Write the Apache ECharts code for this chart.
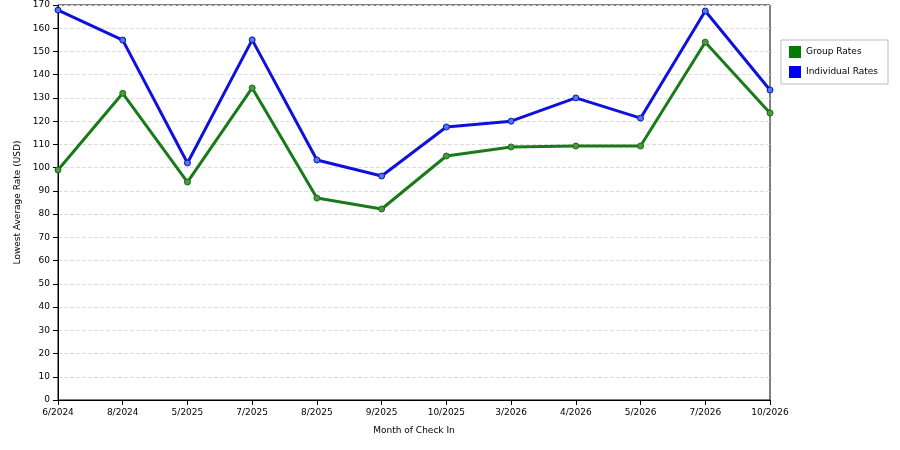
<!DOCTYPE html>
<html><head><meta charset="utf-8">
<script src="https://cdn.jsdelivr.net/npm/echarts@6/dist/echarts.min.js"></script>
<style>html,body{margin:0;padding:0;background:#fff}#c{width:900px;height:450px}</style>
</head><body><div id="c"></div>
<script>
const categories = ['6/2024','8/2024','5/2025','7/2025','8/2025','9/2025','10/2025','3/2026','4/2026','5/2026','7/2026','10/2026'];
const groupRates = [99, 132, 93.8, 134.3, 86.9, 82.2, 105, 108.9, 109.3, 109.3, 154, 123.5];
const individualRates = [167.8, 154.9, 102, 155, 103.3, 96.4, 117.5, 120, 130, 121.3, 167.4, 133.4];
const chart = echarts.init(document.getElementById('c'));
const font = {fontFamily:'DejaVu Sans', fontSize:9, color:'#000'};
chart.setOption({
  animation:false,
  grid:{left:58, right:130, top:5, bottom:50, show:true, borderColor:'#000', borderWidth:1},
  legend:{
    orient:'vertical', right:12, top:40, itemWidth:12, itemHeight:12, itemGap:8,
    padding:[6,10,6,8], borderColor:'#bbb', borderWidth:1,
    textStyle:font, icon:'rect',
    data:[{name:'Group Rates', itemStyle:{color:'#007a00', borderWidth:0}},
          {name:'Individual Rates', itemStyle:{color:'#0000ee', borderWidth:0}}]
  },
  xAxis:{
    type:'category', data:categories, boundaryGap:false,
    name:'Month of Check In', nameLocation:'middle', nameGap:26, nameTextStyle:font,
    axisLine:{lineStyle:{color:'#000'}}, axisTick:{alignWithLabel:true,lineStyle:{color:'#000'}},
    axisLabel:Object.assign({margin:8}, font)
  },
  yAxis:{
    type:'value', min:0, max:170, interval:10,
    name:'Lowest Average Rate (USD)', nameLocation:'middle', nameGap:36, nameTextStyle:font,
    axisLine:{show:true,lineStyle:{color:'#000'}}, axisTick:{show:true,lineStyle:{color:'#000'}},
    axisLabel:font,
    splitLine:{lineStyle:{color:'#ddd', type:'dashed'}}
  },
  series:[
    {name:'Group Rates', type:'line', data:groupRates, color:'#007a00',
     lineStyle:{width:3, color:'#1a7a1a'}, symbol:'circle', symbolSize:6,
     itemStyle:{color:'#4a9a3a', borderColor:'#1a6a1a', borderWidth:1}},
    {name:'Individual Rates', type:'line', data:individualRates, color:'#0000ee',
     lineStyle:{width:3, color:'#1010dd'}, symbol:'circle', symbolSize:6,
     itemStyle:{color:'#4a7aee', borderColor:'#1010bb', borderWidth:1}}
  ]
});
</script></body></html>
